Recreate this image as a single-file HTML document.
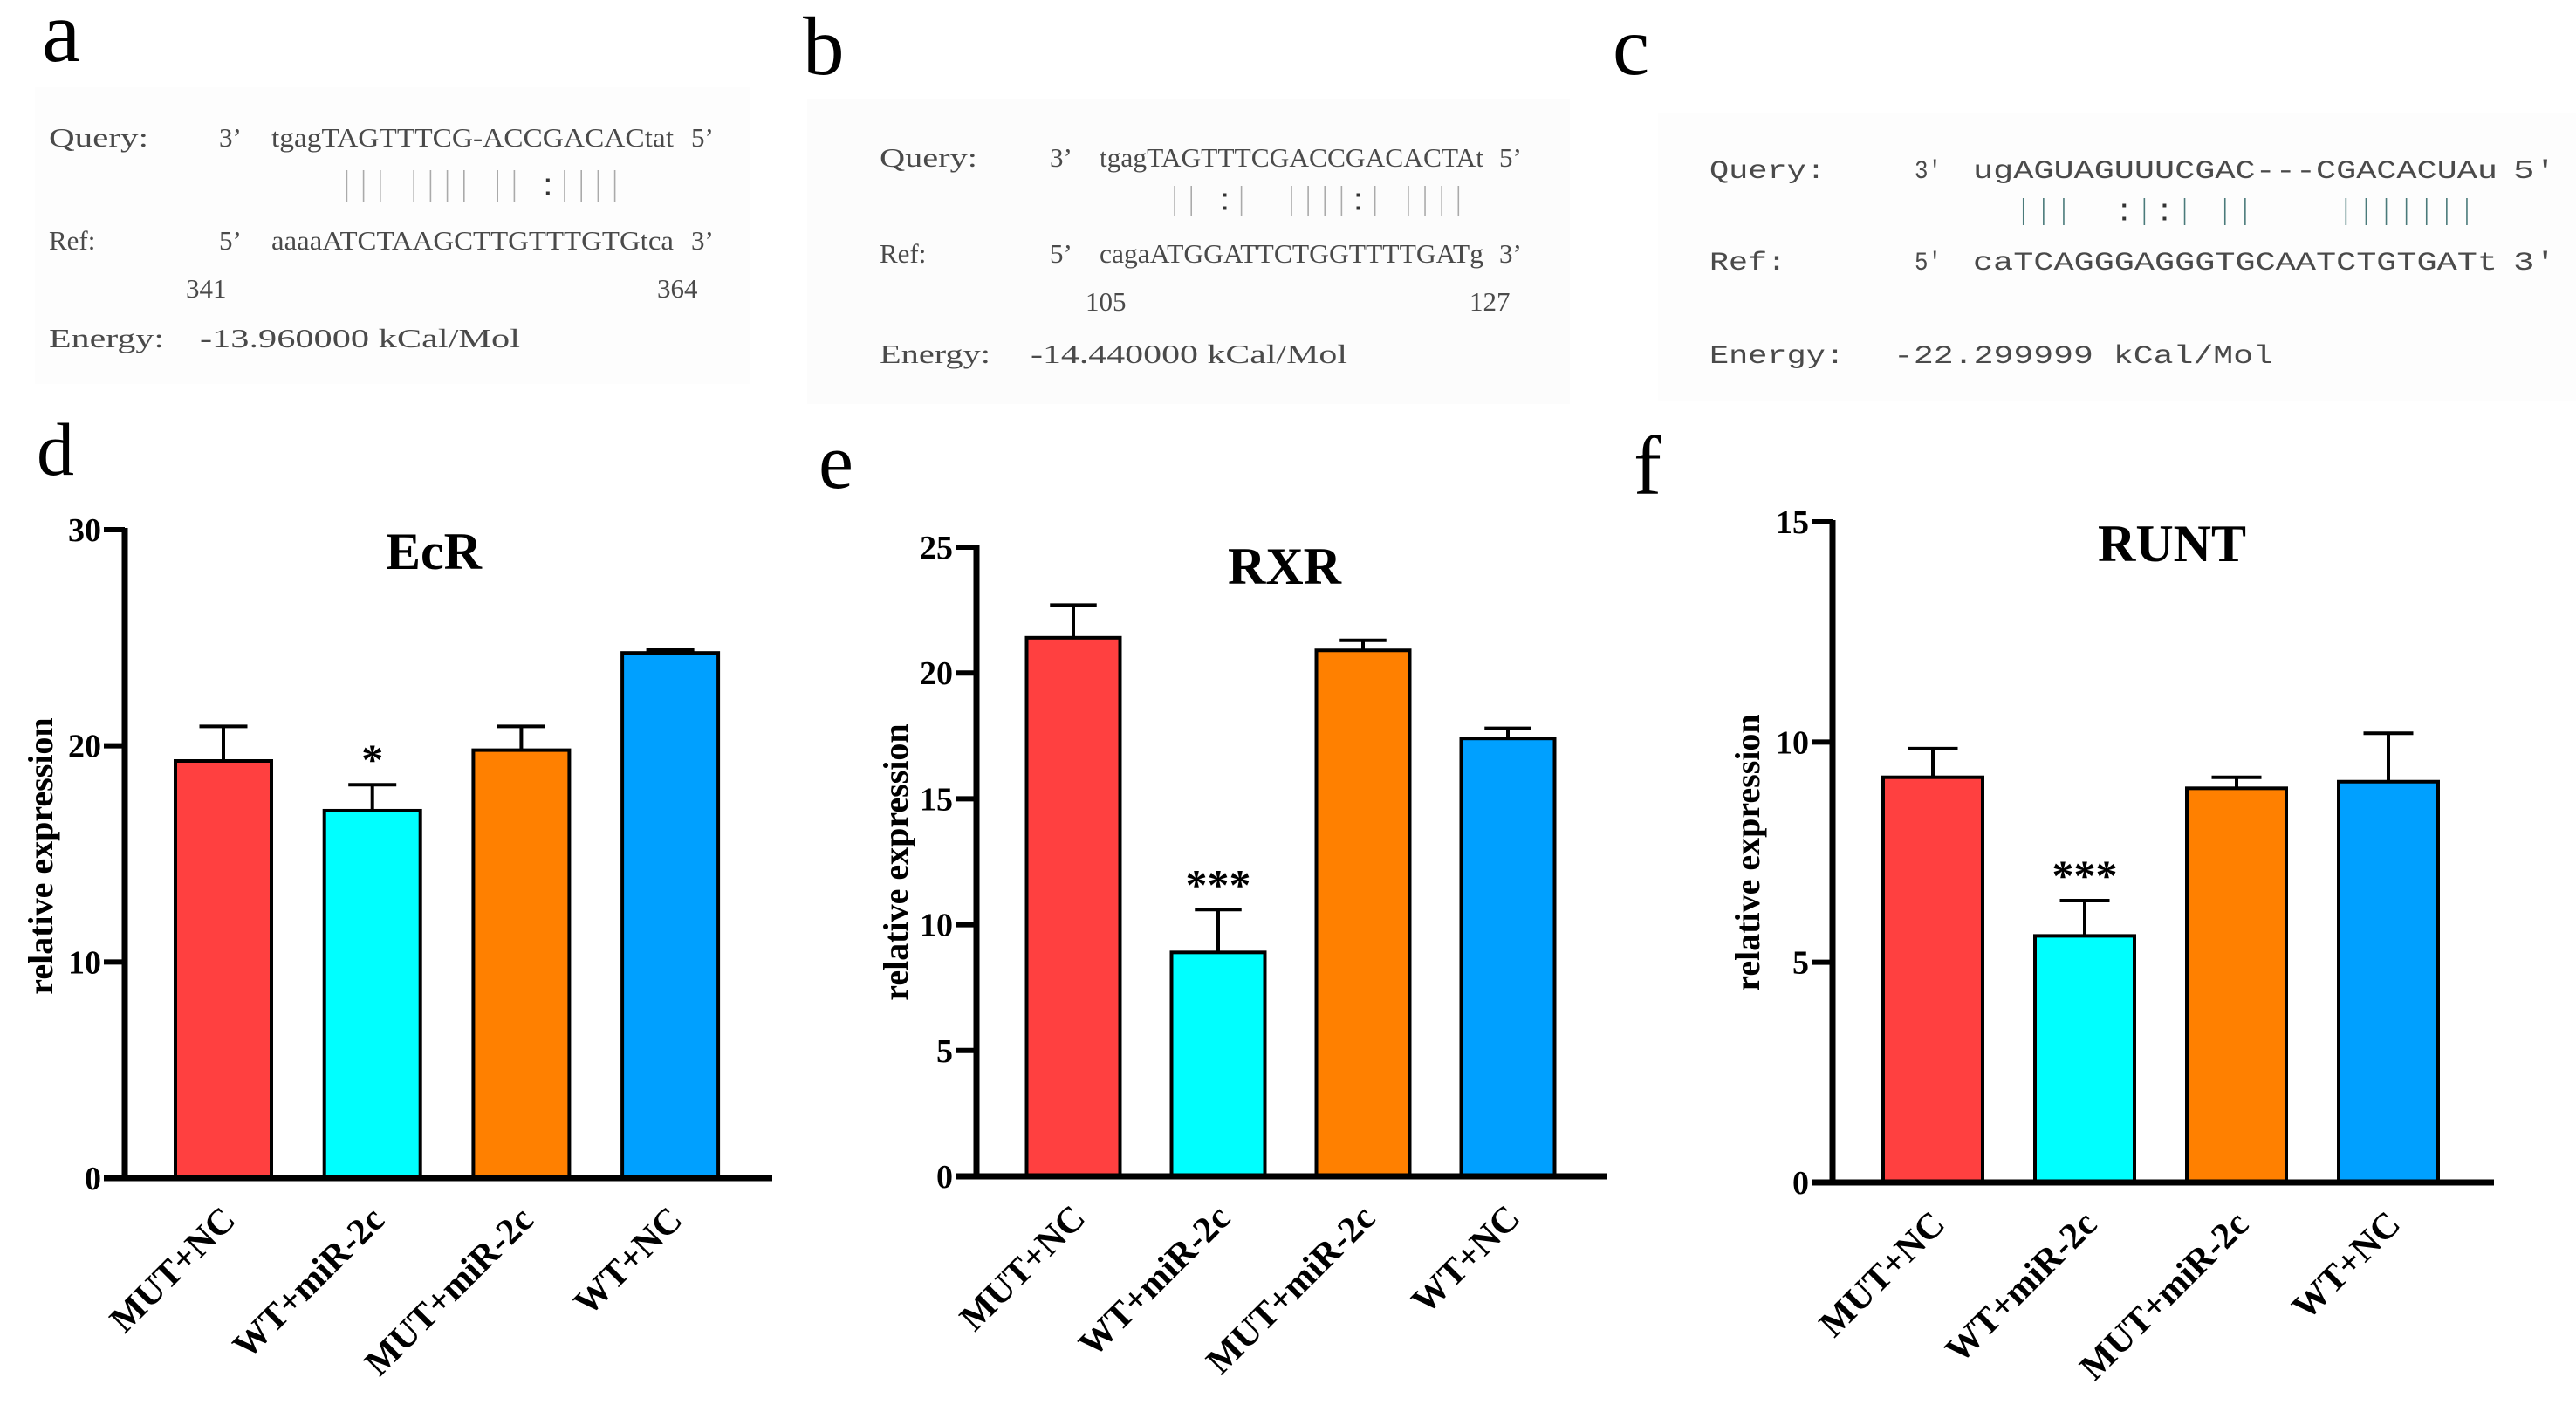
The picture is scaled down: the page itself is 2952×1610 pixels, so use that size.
<!DOCTYPE html>
<html><head><meta charset="utf-8"><style>
html,body{margin:0;padding:0;background:#fff;}
svg{display:block;}
</style></head><body>
<svg id="fig" xmlns="http://www.w3.org/2000/svg" width="2952" height="1610" viewBox="0 0 2952 1610">
<rect x="0" y="0" width="2952" height="1610" fill="#fff"/>
<g font-family="Liberation Serif, serif" fill="#000">
<text x="48" y="70" font-size="100">a</text>
<text x="920" y="85" font-size="95">b</text>
<text x="1848" y="85" font-size="95">c</text>
<text x="42" y="544" font-size="86">d</text>
<text x="938" y="559" font-size="90">e</text>
<text x="1872" y="566" font-size="96">f</text>
</g>
<rect x="40" y="100" width="820" height="340" fill="#fdfdfd"/>
<rect x="925" y="113" width="874" height="350" fill="#fcfcfc"/>
<rect x="1900" y="130" width="1052" height="330" fill="#fdfdfd"/>
<g id="align"></g>
<g id="charts"></g>
</svg>
<script>
// ---------- chart data ----------
const categories = ["MUT+NC", "WT+miR-2c", "MUT+miR-2c", "WT+NC"];
const ecrValues = [19.3, 17.0, 19.8, 24.3];
const ecrErrors = [1.6, 1.2, 1.1, 0.15];
const ecrTicks = [0, 10, 20, 30];
const rxrValues = [21.4, 8.9, 20.9, 17.4];
const rxrErrors = [1.3, 1.7, 0.4, 0.4];
const rxrTicks = [0, 5, 10, 15, 20, 25];
const runtValues = [9.2, 5.6, 8.95, 9.1];
const runtErrors = [0.65, 0.8, 0.25, 1.1];
const runtTicks = [0, 5, 10, 15];
const sigMarks = { ecr: ["", "*", "", ""], rxr: ["", "***", "", ""], runt: ["", "***", "", ""] };
const barColors = ["#FF4040", "#00FFFF", "#FF8000", "#00A0FF"];

const NS = "http://www.w3.org/2000/svg";
function mk(tag, attrs, parent) {
  const e = document.createElementNS(NS, tag);
  for (const k in attrs) e.setAttribute(k, attrs[k]);
  parent.appendChild(e);
  return e;
}

// ---------- alignment panels ----------
const alignG = document.getElementById("align");
function txt(x, y, s, font, size, len, name) {
  const t = mk("text", { x: x, y: y, "font-family": font, "font-size": size, fill: "#4a4a4a", "xml:space": "preserve" }, alignG);
  if (len) { t.setAttribute("textLength", len); t.setAttribute("lengthAdjust", "spacingAndGlyphs"); }
  t.textContent = s;
  
  
  return t;
}
function pairs(pattern, x0, cw, y1, y2, color, name) {
  const g = mk("g", {}, alignG);
  
  
  for (let i = 0; i < pattern.length; i++) {
    const cx = x0 + (i + 0.5) * cw;
    if (pattern[i] === "|") {
      mk("line", { x1: cx, x2: cx, y1: y1, y2: y2, stroke: color, "stroke-width": 1.6 }, g);
    } else if (pattern[i] === ":") {
      const m = (y1 + y2) / 2;
      mk("rect", { x: cx - 2, y: m - 9, width: 4, height: 4, fill: "#333" }, g);
      mk("rect", { x: cx - 2, y: m + 6, width: 4, height: 4, fill: "#333" }, g);
    }
  }
}
const serif = "Liberation Serif, serif";
const mono = "Liberation Mono, monospace";
// panel a
txt(56, 168, "Query:", serif, 31, 114, "query-label-a");
txt(251, 168, "3’", serif, 31, 0, "query-3prime-a");
txt(311, 168, "tgagTAGTTTCG-ACCGACACtat", serif, 31, 461, "query-seq-a");
txt(792, 168, "5’", serif, 31, 0, "query-5prime-a");
pairs("    ||| |||| || :||||   ", 311, 19.2, 195, 232, "#aaa", "pairing-a");
txt(56, 286, "Ref:", serif, 31, 0, "ref-label-a");
txt(251, 286, "5’", serif, 31, 0, "ref-5prime-a");
txt(311, 286, "aaaaATCTAAGCTTGTTTGTGtca", serif, 31, 461, "ref-seq-a");
txt(792, 286, "3’", serif, 31, 0, "ref-3prime-a");
txt(213, 341, "341", serif, 31, 0, "start-pos-a");
txt(753, 341, "364", serif, 31, 0, "end-pos-a");
txt(56, 398, "Energy:", serif, 31, 132, "energy-label-a");
txt(229, 398, "-13.960000 kCal/Mol", serif, 31, 367, "energy-value-a");
// panel b
txt(1008, 191, "Query:", serif, 31, 112, "query-label-b");
txt(1203, 191, "3’", serif, 31, 0, "query-3prime-b");
txt(1260, 191, "tgagTAGTTTCGACCGACACTAt", serif, 31, 440, "query-seq-b");
txt(1718, 191, "5’", serif, 31, 0, "query-5prime-b");
pairs("    || :|  ||||:| |||| ", 1260, 19.13, 213, 248, "#aaa", "pairing-b");
txt(1008, 301, "Ref:", serif, 31, 0, "ref-label-b");
txt(1203, 301, "5’", serif, 31, 0, "ref-5prime-b");
txt(1260, 301, "cagaATGGATTCTGGTTTTGATg", serif, 31, 440, "ref-seq-b");
txt(1718, 301, "3’", serif, 31, 0, "ref-3prime-b");
txt(1244, 356, "105", serif, 31, 0, "start-pos-b");
txt(1684, 356, "127", serif, 31, 0, "end-pos-b");
txt(1008, 416, "Energy:", serif, 31, 127, "energy-label-b");
txt(1181, 416, "-14.440000 kCal/Mol", serif, 31, 363, "energy-value-b");
// panel c
txt(1959, 204, "Query:", mono, 30, 133, "query-label-c");
txt(2194, 204, "3'", mono, 30, 31, "query-3prime-c");
txt(2261, 204, "ugAGUAGUUUCGAC---CGACACUAu", mono, 30, 601, "query-seq-c");
txt(2880, 204, "5'", mono, 30, 49, "query-5prime-c");
pairs("  |||  :|:| ||    ||||||| ", 2261, 23.1, 227, 258, "#4a7a7a", "pairing-c");
txt(1959, 309, "Ref:", mono, 30, 88, "ref-label-c");
txt(2194, 309, "5'", mono, 30, 31, "ref-5prime-c");
txt(2261, 309, "caTCAGGGAGGGTGCAATCTGTGATt", mono, 30, 601, "ref-seq-c");
txt(2880, 309, "3'", mono, 30, 49, "ref-3prime-c");
txt(1959, 416, "Energy:", mono, 30, 155, "energy-label-c");
txt(2170, 416, "-22.299999 kCal/Mol", mono, 30, 435, "energy-value-c");

// ---------- bar charts ----------
const chartsG = document.getElementById("charts");
function drawChart(cfg) {
  const g = mk("g", { "font-family": "Liberation Serif, serif", "font-weight": "bold" }, chartsG);
  
  
  const yScale = v => cfg.y0 - (v / cfg.max) * (cfg.y0 - cfg.yTop);
  const xCenter = i => cfg.axisX + cfg.offset + i * cfg.step;
  cfg.values.forEach((v, i) => {
    const cx = xCenter(i), top = yScale(v), eTop = yScale(v + cfg.errors[i]);
    const el = mk("line", { x1: cx, x2: cx, y1: top, y2: eTop, stroke: "#000", "stroke-width": 4 }, g);
    
    
    const cap = mk("line", { x1: cx - cfg.bw * 0.25, x2: cx + cfg.bw * 0.25, y1: eTop, y2: eTop, stroke: "#000", "stroke-width": 4 }, g);
    
    
    const r = mk("rect", { x: cx - cfg.bw / 2, y: top, width: cfg.bw, height: cfg.y0 - top, fill: barColors[i], stroke: "#000", "stroke-width": 4 }, g);
    
    
    if (cfg.sig[i]) {
      const s = mk("text", { x: cx, y: eTop - 12, "text-anchor": "middle", "font-size": 50 }, g);
      s.textContent = cfg.sig[i];
      
      
    }
    const lx = cx + 16, ly = cfg.y0 + 50;
    const lab = mk("text", { x: lx, y: ly, "text-anchor": "end", "font-size": 42, transform: "rotate(-45 " + lx + " " + ly + ")" }, g);
    lab.textContent = categories[i];
    
    
  });
  const ya = mk("line", { x1: cfg.axisX, x2: cfg.axisX, y1: cfg.yTop - 2, y2: cfg.y0 + 3, stroke: "#000", "stroke-width": 7 }, g);
  
  
  const xa = mk("line", { x1: cfg.axisX - 24, x2: cfg.xEnd, y1: cfg.y0, y2: cfg.y0, stroke: "#000", "stroke-width": 7 }, g);
  
  
  cfg.ticks.forEach(t => {
    const y = yScale(t);
    const tk = mk("line", { x1: cfg.axisX - 24, x2: cfg.axisX, y1: y, y2: y, stroke: "#000", "stroke-width": 6 }, g);
    
    
    const tl = mk("text", { x: cfg.axisX - 27, y: y + 13, "text-anchor": "end", "font-size": 38 }, g);
    tl.textContent = t;
    
    
  });
  const yt = mk("text", { x: cfg.ytX, y: cfg.ytY, "text-anchor": "middle", "font-size": 40, transform: "rotate(-90 " + cfg.ytX + " " + cfg.ytY + ")" }, g);
  yt.textContent = "relative expression";
  
  
  const ti = mk("text", { x: cfg.titleX, y: cfg.titleY, "text-anchor": "middle", "font-size": 60 }, g);
  ti.textContent = cfg.title;
  
  
}
drawChart({ name: "chart-ecr", title: "EcR", values: ecrValues, errors: ecrErrors, ticks: ecrTicks, sig: sigMarks.ecr, max: 30,
  axisX: 143, y0: 1350, yTop: 607, xEnd: 885, offset: 113, step: 170.7, bw: 110, ytX: 60, ytY: 981, titleX: 497, titleY: 652 });
drawChart({ name: "chart-rxr", title: "RXR", values: rxrValues, errors: rxrErrors, ticks: rxrTicks, sig: sigMarks.rxr, max: 25,
  axisX: 1119, y0: 1348, yTop: 627, xEnd: 1842, offset: 111, step: 166, bw: 107, ytX: 1040, ytY: 988, titleX: 1472, titleY: 669 });
drawChart({ name: "chart-runt", title: "RUNT", values: runtValues, errors: runtErrors, ticks: runtTicks, sig: sigMarks.runt, max: 15,
  axisX: 2100, y0: 1355, yTop: 598, xEnd: 2858, offset: 115, step: 174, bw: 114, ytX: 2016, ytY: 977, titleX: 2489, titleY: 643 });
</script>
</body></html>
